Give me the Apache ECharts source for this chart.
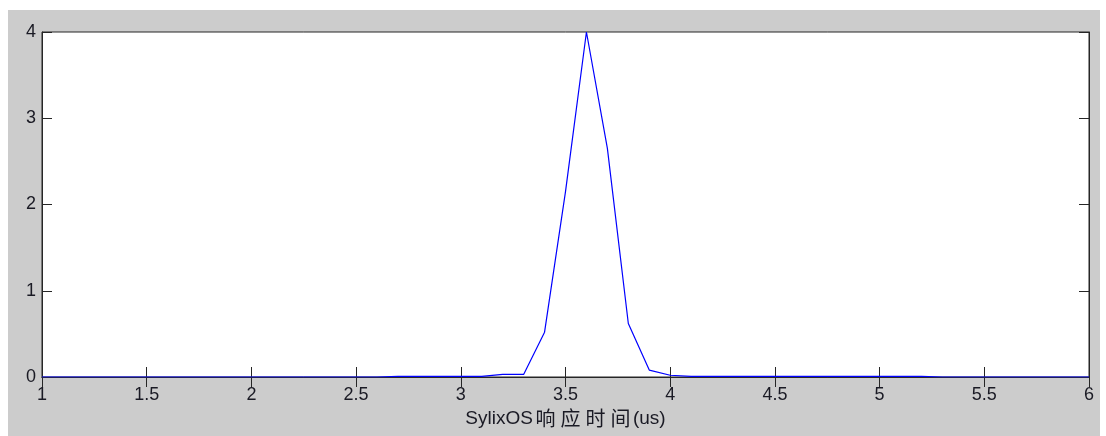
<!DOCTYPE html>
<html>
<head>
<meta charset="utf-8">
<script src="https://cdn.jsdelivr.net/npm/echarts@6/dist/echarts.min.js"></script>
<style>
html,body{margin:0;padding:0;background:#fff;width:1106px;height:436px;overflow:hidden;}
#chart{position:absolute;left:8px;top:10px;width:1092px;height:426px;background:#cccccc;}
</style>
</head>
<body>
<div id="chart"></div>
<script>
const xValues = [1.0,1.1,1.2,1.3,1.4,1.5,1.6,1.7,1.8,1.9,
  2.0,2.1,2.2,2.3,2.4,2.5,2.6,2.7,2.8,2.9,
  3.0,3.1,3.2,3.3,3.4,3.5,3.6,3.7,3.8,3.9,
  4.0,4.1,4.2,4.3,4.4,4.5,4.6,4.7,4.8,4.9,
  5.0,5.1,5.2,5.3,5.4,5.5,5.6,5.7,5.8,5.9,6.0];
const yValues = [0,0,0,0,0,0,0,0,0,0,
  0,0,0,0,0,0,0,0.008,0.008,0.008,
  0.008,0.008,0.03,0.03,0.52,2.15,4.0,2.65,0.62,0.08,
  0.02,0.008,0.008,0.008,0.008,0.008,0.008,0.008,0.008,0.008,
  0.008,0.008,0.008,0,0,0,0,0,0,0,0];
const xTicks = {min:1, max:6, interval:0.5};
const yTicks = {min:0, max:4, interval:1};
const xNameLatin = 'SylixOS';
const xNameCJK = ['响','应','时','间'];
const xNameUnit = '(us)';

const font = '"Liberation Sans", Arial, "Noto Sans CJK SC", sans-serif';
const cjkFont = '"Noto Sans CJK SC", sans-serif';
const txt = '#1a1a24';
const chart = echarts.init(document.getElementById('chart'), null, {renderer:'canvas'});
const commonAxis = {
  axisLine:{show:true, lineStyle:{color:'#262626', width:1}},
  axisTick:{show:true, inside:true, length:10, lineStyle:{color:'#262626', width:1}},
  splitLine:{show:false}
};
const nameStr = '{a|' + xNameLatin + '}' + xNameCJK.map(c => '{c|' + c + '}').join('') + '{a|' + xNameUnit + '}';
chart.setOption({
  animation:false,
  backgroundColor:'#cccccc',
  grid:{left:34, top:22, right:11, bottom:59, outerBoundsMode:'none', containLabel:false,
    show:true, backgroundColor:'#ffffff', borderColor:'#262626', borderWidth:1},
  xAxis:[
    Object.assign({type:'value', position:'bottom', min:xTicks.min, max:xTicks.max, interval:xTicks.interval,
      name:nameStr, nameLocation:'middle', nameGap:31,
      nameTextStyle:{color:txt, fontSize:19, fontFamily:font,
        rich:{
          a:{color:txt, fontSize:19, fontFamily:font},
          c:{color:txt, fontSize:20, fontFamily:cjkFont, width:25, align:'center'}
        }},
      axisLabel:{color:txt, fontSize:18, fontFamily:font, margin:9, formatter: v => String(v)}}, commonAxis),
    Object.assign({type:'value', position:'top', min:xTicks.min, max:xTicks.max, interval:xTicks.interval,
      axisLabel:{show:false}}, commonAxis)
  ],
  yAxis:[
    Object.assign({type:'value', position:'left', min:yTicks.min, max:yTicks.max, interval:yTicks.interval,
      axisLabel:{color:txt, fontSize:18, fontFamily:font, margin:6}}, commonAxis),
    Object.assign({type:'value', position:'right', min:yTicks.min, max:yTicks.max, interval:yTicks.interval,
      axisLabel:{show:false}}, commonAxis)
  ],
  series:[{
    type:'line',
    xAxisIndex:0, yAxisIndex:0,
    data: xValues.map((x,i)=>[x, yValues[i]]),
    showSymbol:false,
    symbol:'none',
    lineStyle:{color:'#0000ff', width:1.2},
    z:1
  }]
});
</script>
</body>
</html>
